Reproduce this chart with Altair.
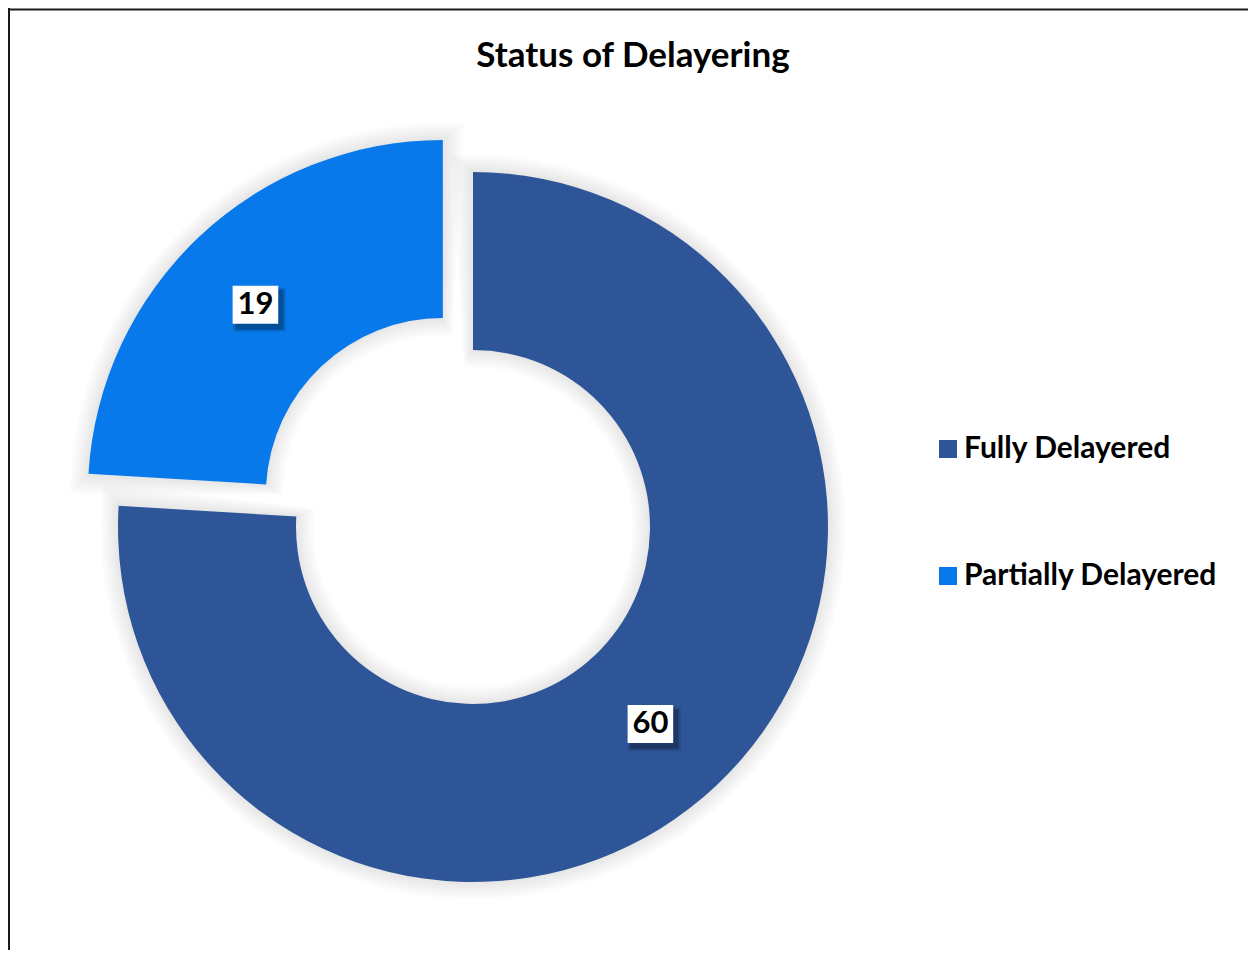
import altair as alt
import pandas as pd

TITLE = "Status of Delayering"
categories = ["Fully Delayered", "Partially Delayered"]
values = [60, 19]
colors = ["#2E5597", "#0779EA"]
exploded = ["Partially Delayered"]

df = pd.DataFrame({"category": categories, "value": values, "order": list(range(len(categories)))})

W, H = 1240, 942
CX, CY = 465, 519
R_OUT, R_IN = 355, 177
EXPLODE = 44
LABEL_R = 266
LABEL_DX, LABEL_DY = -5, 3.5
FONT = "Lato"

expl_list = ",".join(f"'{c}'" for c in exploded)

base = (
    alt.Chart(df)
    .transform_joinaggregate(total="sum(value)")
    .transform_window(cum="sum(value)", sort=[alt.SortField("order")])
    .transform_calculate(
        t0="(datum.cum - datum.value) / datum.total * 2 * PI",
        t1="datum.cum / datum.total * 2 * PI",
    )
    .transform_calculate(
        mid="(datum.t0 + datum.t1) / 2",
        ex=f"indexof([{expl_list}], datum.category) >= 0 ? {EXPLODE} : 0",
    )
    .transform_calculate(
        cx=f"{CX} + datum.ex * sin(datum.mid)",
        cy=f"{CY} - datum.ex * cos(datum.mid)",
    )
    .transform_calculate(
        lx=f"datum.cx + {LABEL_R} * sin(datum.mid) + {LABEL_DX}",
        ly=f"datum.cy - {LABEL_R} * cos(datum.mid) + {LABEL_DY}",
    )
)

pos = dict(
    x=alt.X("cx:Q", scale=None),
    y=alt.Y("cy:Q", scale=None),
    theta=alt.Theta("t0:Q", scale=None),
    theta2=alt.Theta2("t1:Q"),
)

layers = []

# border (left and top)
frame_df = pd.DataFrame({"a": [0]})
layers.append(
    alt.Chart(frame_df).mark_rule(color="#1a1a1a", strokeWidth=2).encode(
        x=alt.value(1), y=alt.value(0), y2=alt.value(H)
    )
)
layers.append(
    alt.Chart(frame_df).mark_rule(color="#1a1a1a", strokeWidth=2).encode(
        x=alt.value(0), x2=alt.value(W), y=alt.value(1.5)
    )
)

# title
layers.append(
    alt.Chart(pd.DataFrame({"t": [TITLE]})).mark_text(
        font=FONT, fontSize=35, fontWeight="bold", color="black",
        align="center", baseline="middle",
    ).encode(text="t:N", x=alt.value(625), y=alt.value(48))
)

# soft glow shadow
STEP = 2.2
for k in range(1, 9):
    d = STEP * k
    layers.append(
        base.mark_arc(
            radius=R_OUT + d, radius2=max(R_IN - d, 0),
            thetaOffset=-d / 300, theta2Offset=d / 300,
            color="black", opacity=0.013, strokeWidth=0,
        ).encode(**pos)
    )

# donut slices
layers.append(
    base.mark_arc(radius=R_OUT, radius2=R_IN, strokeWidth=0).encode(
        color=alt.Color(
            "category:N",
            scale=alt.Scale(domain=categories, range=colors),
            legend=alt.Legend(
                title=None, orient="none", legendX=925, legendY=426,
                labelFont=FONT, labelFontSize=30, labelFontWeight="bold",
                labelColor="black", symbolType="square", symbolSize=324,
                symbolStrokeWidth=0, rowPadding=97, labelOffset=1,
                padding=0, labelLimit=500,
            ),
        ),
        **pos,
    )
)

BOX = "M-1.2,-1H1.2V1H-1.2Z"
lpos = dict(x=alt.X("lx:Q", scale=None), y=alt.Y("ly:Q", scale=None))

# label box shadows
layers.append(
    base.mark_point(shape=BOX, size=44 * 44, filled=True, color="black",
                    opacity=0.12, strokeWidth=0, xOffset=4, yOffset=5).encode(**lpos)
)
layers.append(
    base.mark_point(shape=BOX, size=40 * 40, filled=True, color="black",
                    opacity=0.25, strokeWidth=0, xOffset=4, yOffset=5).encode(**lpos)
)
# label boxes
layers.append(
    base.mark_point(shape=BOX, size=38 * 38, filled=True, color="white",
                    opacity=1, strokeWidth=0).encode(**lpos)
)
# label text
layers.append(
    base.mark_text(font=FONT, fontSize=31, fontWeight="bold", color="black",
                   align="center", baseline="middle").encode(
        text="value:Q", **lpos
    )
)

chart = (
    alt.layer(*layers)
    .properties(width=W, height=H, padding=0,
                autosize=alt.AutoSizeParams(type="none"))
    .configure_view(strokeWidth=0)
)

chart.save("out.html", embed_options={"renderer": "svg", "actions": False})
